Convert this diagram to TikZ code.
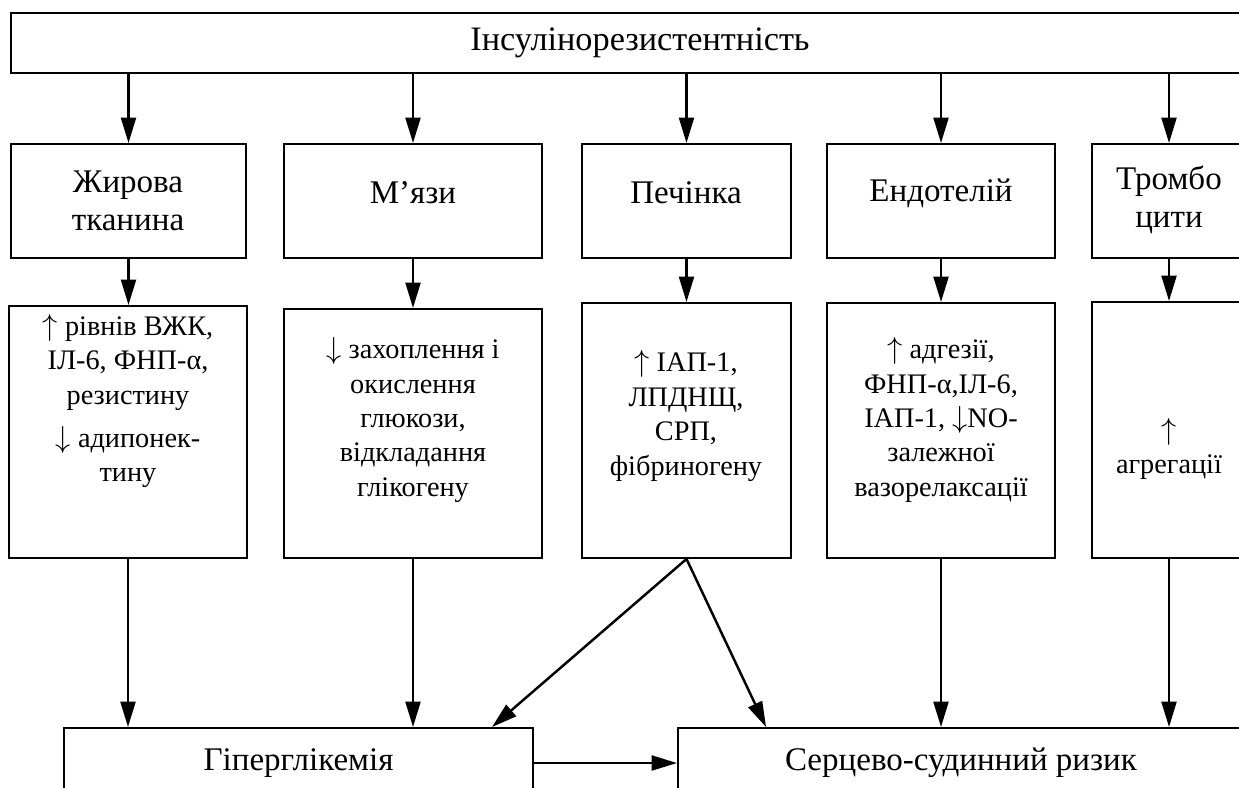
\documentclass[tikz,border=0pt]{standalone}
\usepackage{fontspec}
\setmainfont{Liberation Serif}
\usetikzlibrary{arrows.meta,calc}
\newcommand{\arup}{$\uparrow$}
\newcommand{\ardn}{$\downarrow$}

\begin{document}
\begin{tikzpicture}[
    x=0.02cm, y=-0.02cm,
    every node/.style={font=\fontsize{18.8}{21.6}\selectfont, inner sep=0pt},
    wh/.style 2 args={minimum width=#1*0.02cm, minimum height=#2*0.02cm},
    box/.style={draw, line width=1.1pt, align=center},
    txt/.style={align=center},
    small/.style={align=center, font=\fontsize{16.1}{19.6}\selectfont},
    arr/.style={-{Triangle[length=14.5pt,width=8.5pt]}, line width=1.4pt}]

\useasboundingbox (0,0) rectangle (1239,787);
\clip (0,0) rectangle (1239,787);

\node[box, wh={1258}{60}, font=\fontsize{19.5}{21.6}\selectfont] (top) at (640,43) {Інсулінорезистентність};

\node[box, wh={235}{114}] (fat)  at (128.5,201) {};
\node[box, wh={258}{114}] (mus)  at (413,201) {};
\node[box, wh={209}{114}] (liv)  at (686.5,201) {};
\node[box, wh={228}{114}] (endo) at (941,201) {};
\node[box, wh={154}{114}] (plt)  at (1169,201) {};

\node[txt] (fatt)  at (128,201)  {Жирова\\тканина};
\node[txt] (must)  at (413,193)  {М’язи};
\node[txt] (livt)  at (686,193)  {Печінка};
\node[txt] (endot) at (941,193)  {Ендотелій};
\node[txt] (pltt)  at (1169,200) {Тромбо\\цити};

\node[box, wh={238}{252}] (fat3)  at (128,432)    {};
\node[box, wh={258}{249}] (mus3)  at (413,433.5)  {};
\node[box, wh={209}{255}] (liv3)  at (686.5,430.5) {};
\node[box, wh={228}{255}] (endo3) at (941,430.5)  {};
\node[box, wh={154}{256}] (plt3)  at (1169,430)   {};

\node[small] (fat3t)  at (128,401)  {\arup{} рівнів ВЖК,\\ІЛ-6, ФНП-α,\\резистину\\[5pt]\ardn{} адипонек-\\тину};
\node[small] (mus3t)  at (413,420)  {\ardn{} захоплення і\\окислення\\глюкози,\\відкладання\\глікогену};
\node[small] (liv3t)  at (686,416)  {\arup{} ІАП-1,\\ЛПДНЩ,\\СРП,\\фібриногену};
\node[small] (endo3t) at (941,420)  {\arup{} адгезії,\\ФНП-α,ІЛ-6,\\ІАП-1, \ardn{}NO-\\залежної\\вазорелаксації};
\node[small] (plt3t)  at (1169,449) {\arup\\агрегації};

\node[box, wh={469}{70}] (hyper) at (298.5,763) {Гіперглікемія};
\node[box, wh={566}{70}] (cvr)   at (961,763)   {Серцево-судинний ризик};

\foreach \n in {fat,mus,liv,endo,plt}
    \draw[arr] (\n.north |- top.south) -- (\n.north);
\foreach \n in {fat,mus,liv,endo,plt}
    \draw[arr] (\n.south) -- (\n.south |- \n3.north);

\draw[arr] (fat3.south) -- (fat3.south |- hyper.north);
\draw[arr] (mus3.south) -- (mus3.south |- hyper.north);
\draw[arr] (liv3.south) -- ($(hyper.north east)+(-42,0)$);
\draw[arr] (liv3.south) -- ($(cvr.north west)+(89,0)$);
\draw[arr] (endo3.south) -- (endo3.south |- cvr.north);
\draw[arr] (plt3.south) -- (plt3.south |- cvr.north);
\draw[arr] (hyper) -- (cvr);

\end{tikzpicture}
\end{document}
